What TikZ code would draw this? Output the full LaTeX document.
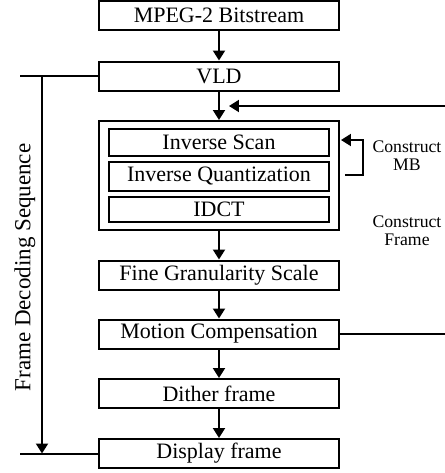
\documentclass[tikz,border=0pt]{standalone}
\usepackage{fontspec}
\setmainfont{Liberation Serif}
\usetikzlibrary{arrows.meta}

\begin{document}
\begin{tikzpicture}[x=0.5pt,y=-0.5pt,line width=1pt,
    stage/.style={draw,rectangle,minimum width=120pt,minimum height=14.5pt,inner sep=0pt,font=\fontsize{11}{13}\selectfont},
    substage/.style={stage,minimum width=110pt,minimum height=13.5pt},
    flow/.style={-{Triangle[length=5pt,width=6pt]}},
    note/.style={align=center,font=\fontsize{8.85}{9}\selectfont}]
    \useasboundingbox (0,0) rectangle (445,473);
    % main chain
    \node[stage] (mpeg) at (219,15) {MPEG-2 Bitstream};
    \node[stage] (vld) at (219,76) {VLD};
    \node[stage,minimum height=54.5pt] (mb) at (219,175.5) {};
    \node[substage] (scan) at (219,142) {Inverse Scan};
    \node[substage,minimum height=14.5pt] (quant) at (219,176) {Inverse Quantization};
    \node[substage,minimum height=12.5pt] (idct) at (219,209.5) {IDCT};
    \node[stage] (fgs) at (219,275) {Fine Granularity Scale};
    \node[stage] (mc) at (219,334) {Motion Compensation};
    \node[stage] (dither) at (219,393.5) {Dither frame};
    \node[stage] (disp) at (219,453.5) {Display frame};
    \draw[flow] (mpeg) -- (vld);
    \draw[flow] (vld) -- (mb);
    \draw[flow] (mb) -- (fgs);
    \draw[flow] (fgs) -- (mc);
    \draw[flow] (mc) -- (dither);
    \draw[flow] (dither) -- (disp);
    % frame loop
    \coordinate (fbin) at (445,106);
    \coordinate (fbout) at (229,106);
    \coordinate (mcout) at (445,334);
    \draw[flow] (fbin) -- (fbout);
    \draw (mc.east) -- (mcout);
    % macroblock loop
    \coordinate (mbfrom) at (345,175);
    \coordinate (mbto) at (341,140);
    \draw[flow] (mbfrom) -- (363,175) |- (mbto);
    \node[note] (cmb) at (407,156) {Construct\\MB};
    \node[note] (cfr) at (407,231) {Construct\\Frame};
    % decoding sequence
    \coordinate (seqtop) at (20,76);
    \coordinate (seqbot) at (20,453.5);
    \coordinate (seqa) at (42,76);
    \coordinate (seqb) at (42,453.5);
    \draw (vld.west) -- (seqtop);
    \draw (disp.west) -- (seqbot);
    \draw[flow] (seqa) -- (seqb);
    \node[rotate=90,font=\fontsize{11.5}{13}\selectfont] (seq) at (25,267.5) {Frame Decoding Sequence};
\end{tikzpicture}
\end{document}
